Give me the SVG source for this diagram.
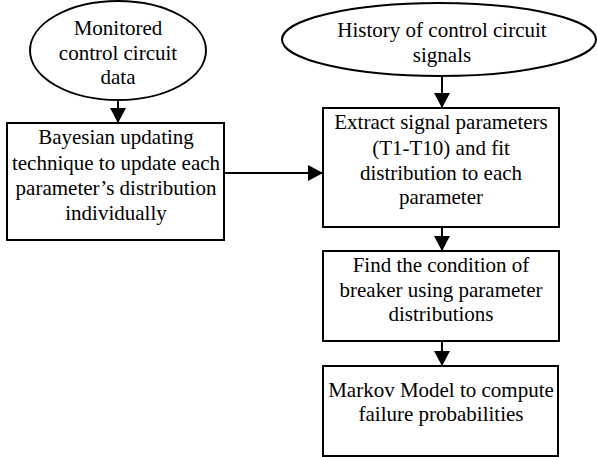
<svg xmlns="http://www.w3.org/2000/svg" width="597" height="457" viewBox="0 0 597 457" font-family="'Liberation Serif', 'Times New Roman', serif" font-size="21">
<style>
.shape{fill:#fff;stroke:#000;stroke-width:2}
.conn{stroke:#000;stroke-width:2;fill:none}
.t{font-family:"Liberation Serif","Times New Roman",serif;font-size:21px;fill:#000;text-anchor:middle}
</style>
<defs>
<marker id="arr" markerUnits="userSpaceOnUse" markerWidth="16" markerHeight="16" refX="15" refY="8" orient="auto">
<path d="M0,0 L15,8 L0,16 z" fill="#000"/>
</marker>
</defs>
<rect width="597" height="457" fill="#fff"/>
<g id="connectors">
<line class="conn" x1="118" y1="100" x2="118" y2="123" marker-end="url(#arr)"/>
<line class="conn" x1="442" y1="76" x2="442" y2="108" marker-end="url(#arr)"/>
<line class="conn" x1="224" y1="173" x2="323" y2="173" marker-end="url(#arr)"/>
<line class="conn" x1="442" y1="227" x2="442" y2="251" marker-end="url(#arr)"/>
<line class="conn" x1="442" y1="341" x2="442" y2="366" marker-end="url(#arr)"/>
</g>
<g id="monitored">
<ellipse class="shape" cx="118" cy="50.5" rx="88" ry="49.5"/>
<text class="t" x="118" y="35">Monitored</text>
<text class="t" x="118" y="60">control circuit</text>
<text class="t" x="118" y="84">data</text>
</g>
<g id="history">
<ellipse class="shape" cx="439" cy="39.5" rx="157" ry="36.5"/>
<text class="t" x="442" y="37">History of control circuit</text>
<text class="t" x="442" y="62">signals</text>
</g>
<g id="bayesian">
<rect class="shape" x="7" y="123" width="217" height="117"/>
<text class="t" x="116" y="144">Bayesian updating</text>
<text class="t" x="116" y="169.5">technique to update each</text>
<text class="t" x="116" y="195">parameter’s distribution</text>
<text class="t" x="116" y="220">individually</text>
</g>
<g id="extract">
<rect class="shape" x="323" y="108" width="236" height="119"/>
<text class="t" x="441" y="129">Extract signal parameters</text>
<text class="t" x="441" y="154.5">(T1-T10) and fit</text>
<text class="t" x="441" y="180">distribution to each</text>
<text class="t" x="441" y="204">parameter</text>
</g>
<g id="condition">
<rect class="shape" x="323" y="251" width="236" height="90"/>
<text class="t" x="441" y="272">Find the condition of</text>
<text class="t" x="441" y="297">breaker using parameter</text>
<text class="t" x="441" y="321">distributions</text>
</g>
<g id="markov">
<rect class="shape" x="323" y="366" width="235" height="90"/>
<text class="t" x="441" y="397">Markov Model to compute</text>
<text class="t" x="441" y="421">failure probabilities</text>
</g>
</svg>
